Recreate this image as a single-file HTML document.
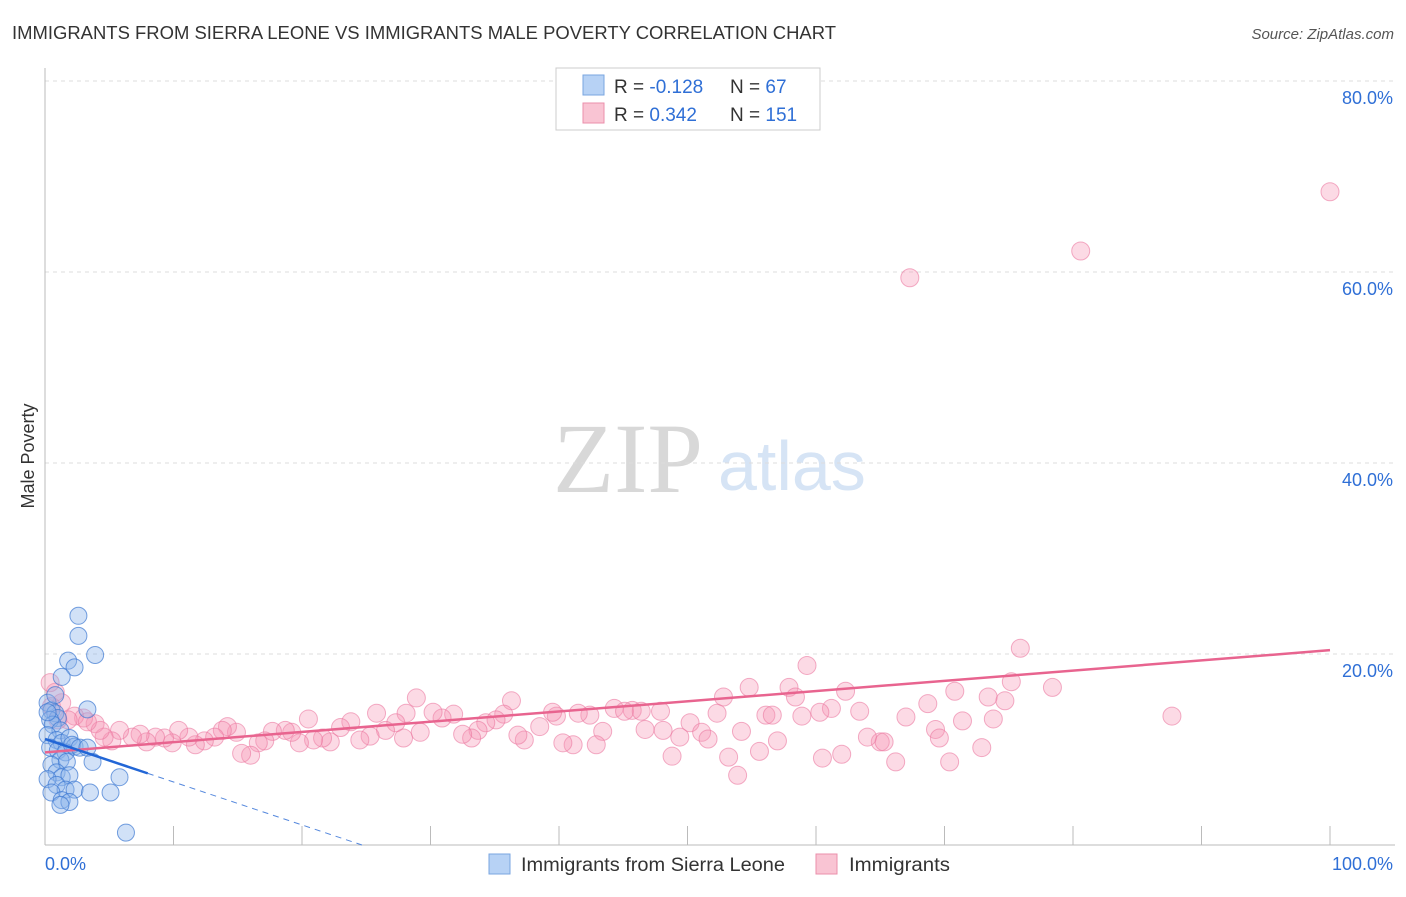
<!DOCTYPE html>
<html><head><meta charset="utf-8"><style>
body{margin:0;background:#fff;font-family:"Liberation Sans",sans-serif}
svg text{font-family:"Liberation Sans",sans-serif}
</style></head><body>
<svg id="c" width="1406" height="892" xmlns="http://www.w3.org/2000/svg">
<text x="12" y="39" font-size="18" fill="#333" textLength="824" lengthAdjust="spacingAndGlyphs">IMMIGRANTS FROM SIERRA LEONE VS IMMIGRANTS MALE POVERTY CORRELATION CHART</text>
<text x="1394" y="39" font-size="15" fill="#555" font-style="italic" text-anchor="end">Source: ZipAtlas.com</text>
<text x="553" y="492" font-size="100" fill="#d8d8d8" style="font-family:'Liberation Serif',serif">ZIP</text>
<text x="718" y="490" font-size="70" fill="#d6e4f5">atlas</text>
<text x="34" y="456" font-size="18" fill="#333" text-anchor="middle" transform="rotate(-90 34 456)">Male Poverty</text>
<g id="grid"></g><g id="pts"></g><g id="trend"></g>
<g>
<rect x="556" y="68" width="264" height="62" fill="#fff" stroke="#ccc"/>
<rect x="583" y="75" width="21" height="20" fill="#b7d2f5" stroke="#7aa6e0"/>
<rect x="583" y="103" width="21" height="20" fill="#f9c4d3" stroke="#eb8fab"/>
<text x="614" y="93" font-size="19" fill="#333">R = <tspan fill="#2f6fd6">-0.128</tspan></text>
<text x="730" y="93" font-size="19" fill="#333">N = <tspan fill="#2f6fd6"> 67</tspan></text>
<text x="614" y="121" font-size="19" fill="#333">R = <tspan fill="#2f6fd6"> 0.342</tspan></text>
<text x="730" y="121" font-size="19" fill="#333">N = <tspan fill="#2f6fd6">151</tspan></text>
</g>
<g>
<rect x="489" y="854" width="21" height="20" fill="#b7d2f5" stroke="#7aa6e0"/>
<text x="521" y="871" font-size="19" fill="#333" textLength="264" lengthAdjust="spacingAndGlyphs">Immigrants from Sierra Leone</text>
<rect x="816" y="854" width="21" height="20" fill="#f9c4d3" stroke="#eb8fab"/>
<text x="849" y="871" font-size="19" fill="#333" textLength="101" lengthAdjust="spacingAndGlyphs">Immigrants</text>
</g>
</svg>
<script>
const yTicks=[20,40,60,80];
const xTickLabels=["0.0%","100.0%"];
const blueX=[2.6,2.6,3.9,1.8,2.3,1.3,3.3,0.2,0.5,0.8,1.0,0.4,0.6,1.2,0.2,0.9,1.3,1.9,2.3,0.4,1.0,1.6,2.1,2.7,1.2,0.5,1.7,0.9,1.3,0.2,1.9,0.9,1.6,0.5,2.3,3.5,5.1,1.3,1.9,1.2,3.7,3.3,5.8,6.3,0.8,0.2];
const blueY=[24,21.9,19.9,19.3,18.6,17.6,14.2,14.9,14.1,13.8,13.3,13.1,12.6,12.0,11.5,11.0,10.7,11.2,10.3,10.2,9.9,9.7,10.5,10.2,8.9,8.4,8.7,7.6,7.1,6.9,7.3,6.3,5.8,5.5,5.8,5.5,5.5,4.7,4.5,4.2,8.7,10.2,7.1,1.3,15.7,13.9];
const pinkX=[100,80.6,67.3,75.9,59.3,78.4,87.7,75.2,70.8,73.4,74.7,73.8,71.4,68.7,67,69.3,69.6,72.9,70.4,66.2,65,65.3,64,63.4,62.3,61.2,60.3,58.9,57.9,58.4,62,60.5,57,55.6,56.1,56.6,54.8,52.8,52.3,54.2,53.2,53.9,50.2,51.1,51.6,49.4,48.8,47.9,48.1,46.7,45.7,44.3,45.1,46.4,43.4,42.9,42.4,41.5,41.1,40.3,39.8,39.5,38.5,37.3,36.8,36.3,35.7,35.1,34.3,33.7,33.2,32.5,31.8,30.9,30.2,29.2,28.9,28.1,27.9,27.3,26.5,25.8,25.3,24.5,23.8,23,22.2,21.6,20.9,20.5,19.8,19.2,18.7,17.7,17.1,16.6,16,15.3,14.9,14.2,13.8,13.2,12.4,11.7,11.2,10.4,9.9,9.3,8.6,7.9,7.4,6.8,5.8,5.2,4.6,3.9,3,2.3,1.8,1.3,0.8,0.4,0.5,1,4.3,3.3];
const pinkY=[68.4,62.2,59.4,20.6,18.8,16.5,13.5,17.1,16.1,15.5,15.1,13.2,13,14.8,13.4,12.1,11.2,10.2,8.7,8.7,10.8,10.8,11.3,14,16.1,14.3,13.9,13.5,16.5,15.5,9.5,9.1,10.9,9.8,13.6,13.6,16.5,15.5,13.8,11.9,9.2,7.3,12.8,11.8,11.1,11.3,9.3,14,12,12.1,14.1,14.3,14,14,11.9,10.5,13.6,13.8,10.5,10.7,13.5,13.9,12.4,11,11.5,15.1,13.7,13.1,12.8,12,11.2,11.6,13.7,13.3,13.9,11.8,15.4,13.8,11.2,12.8,12,13.8,11.4,11,12.9,12.3,10.8,11.2,11,13.2,10.7,11.8,12,11.9,10.9,10.7,9.4,9.6,11.8,12.4,12,11.3,10.9,10.5,11.3,12,10.7,11.2,11.3,10.8,11.6,11.3,12,10.9,11.3,12.7,13.3,13.5,13.1,14.9,16,17,14.5,13.1,12,12.9];
const pinkTrend=[9.7,20.4];
const blueTrend=[11.1,-0.45];
const NS="http://www.w3.org/2000/svg";
const xs=v=>45+v*12.85, ys=v=>845-v*9.55;
function mk(t,a,p){const e=document.createElementNS(NS,t);for(const k in a)e.setAttribute(k,a[k]);p.appendChild(e);return e;}
const g=document.getElementById('grid');
yTicks.forEach(t=>{
 const l=mk('line',{x1:45,x2:1395,y1:ys(t),y2:ys(t),stroke:'#ddd','stroke-dasharray':'4,4'},g);
 
 
 const tx=mk('text',{x:1393,y:ys(t)+23,'font-size':18,fill:'#2f6fd6','text-anchor':'end'},g);
 tx.textContent=t.toFixed(1)+'%';
 
 
});
const ax=mk('line',{x1:45,x2:45,y1:68,y2:845,stroke:'#bbb'},g);


const bx=mk('line',{x1:45,x2:1395,y1:845,y2:845,stroke:'#bbb'},g);


for(let i=0;i<=10;i++){
 const tk=mk('line',{x1:xs(i*10),x2:xs(i*10),y1:826,y2:845,stroke:'#bbb'},g);
 
 
}
[[0,'start',45],[1,'end',1393]].forEach(([i,a,x])=>{
 const tx=mk('text',{x:x,y:870,'font-size':18,fill:'#2f6fd6','text-anchor':a},g);
 tx.textContent=xTickLabels[i];
 
 
});
const p=document.getElementById('pts');
pinkX.forEach((x,i)=>{
 const c=mk('circle',{cx:xs(x),cy:ys(pinkY[i]),r:9,fill:'rgba(245,150,180,0.35)',stroke:'rgba(235,120,160,0.6)'},p);
 
 
});
blueX.forEach((x,i)=>{
 const c=mk('circle',{cx:xs(x),cy:ys(blueY[i]),r:8.5,fill:'rgba(140,180,235,0.4)',stroke:'rgba(60,120,210,0.7)'},p);
 
 
});
const tr=document.getElementById('trend');
const pl=mk('line',{x1:xs(0),y1:ys(pinkTrend[0]),x2:xs(100),y2:ys(pinkTrend[1]),stroke:'#e8648f','stroke-width':2.5},tr);


const bEnd=-blueTrend[0]/blueTrend[1];
const bl=mk('line',{x1:xs(0),y1:ys(blueTrend[0]),x2:xs(8),y2:ys(blueTrend[0]+8*blueTrend[1]),stroke:'#2266d6','stroke-width':2.5},tr);


const bd=mk('line',{x1:xs(8),y1:ys(blueTrend[0]+8*blueTrend[1]),x2:xs(bEnd),y2:ys(0),stroke:'#5588dd','stroke-width':1,'stroke-dasharray':'6,5'},tr);


</script>
</body></html>
